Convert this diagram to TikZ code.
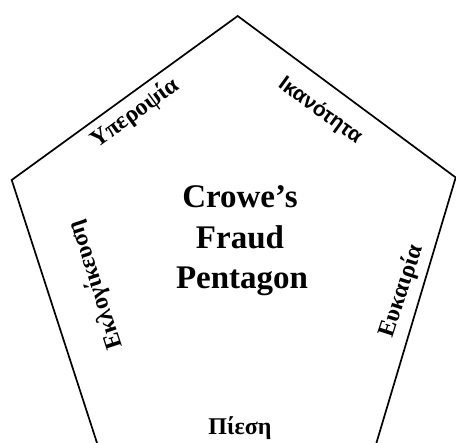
\documentclass[tikz,border=0pt]{standalone}
\usepackage{fontspec}
\setmainfont{Liberation Serif}
\newfontfamily\labsans{Liberation Sans}
\begin{document}
\begin{tikzpicture}[x=1pt,y=-1pt,
  edge/.style={line width=1.7pt, line join=miter},
  lab/.style={font=\fontsize{24}{28}\selectfont\bfseries, inner sep=0pt},
  ttl/.style={font=\fontsize{33}{40}\selectfont\bfseries, inner sep=0pt, anchor=base}]
\useasboundingbox (0,0) rectangle (456,443);
\clip (0,0) rectangle (456,443);
\coordinate (T) at (237.7,16);
\coordinate (L) at (11.7,180);
\coordinate (R) at (455.7,177.5);
\coordinate (BL) at (99.3,450);
\coordinate (BR) at (374.3,450);
\draw[edge] (BL) -- (L) -- (T) -- (R) -- (BR);
\node[lab, rotate=36] (hub) at (135,113.3) {Υπεροψία};
\node[lab, rotate=-36, font=\fontsize{21}{25}\selectfont\labsans\bfseries] (abl) at (320,111) {Ικανότητα};
\node[lab, rotate=108] (rat) at (95.8,285) {Εκλογίκευση};
\node[lab, rotate=72] (opp) at (401.7,290.8) {Ευκαιρία};
\node[lab, anchor=base] (pre) at (240,434.3) {Πίεση};
\node[ttl] (c1) at (240,208) {Crowe’s};
\node[ttl] (c2) at (240,249) {Fraud};
\node[ttl] (c3) at (242,289) {Pentagon};
\end{tikzpicture}
\end{document}
